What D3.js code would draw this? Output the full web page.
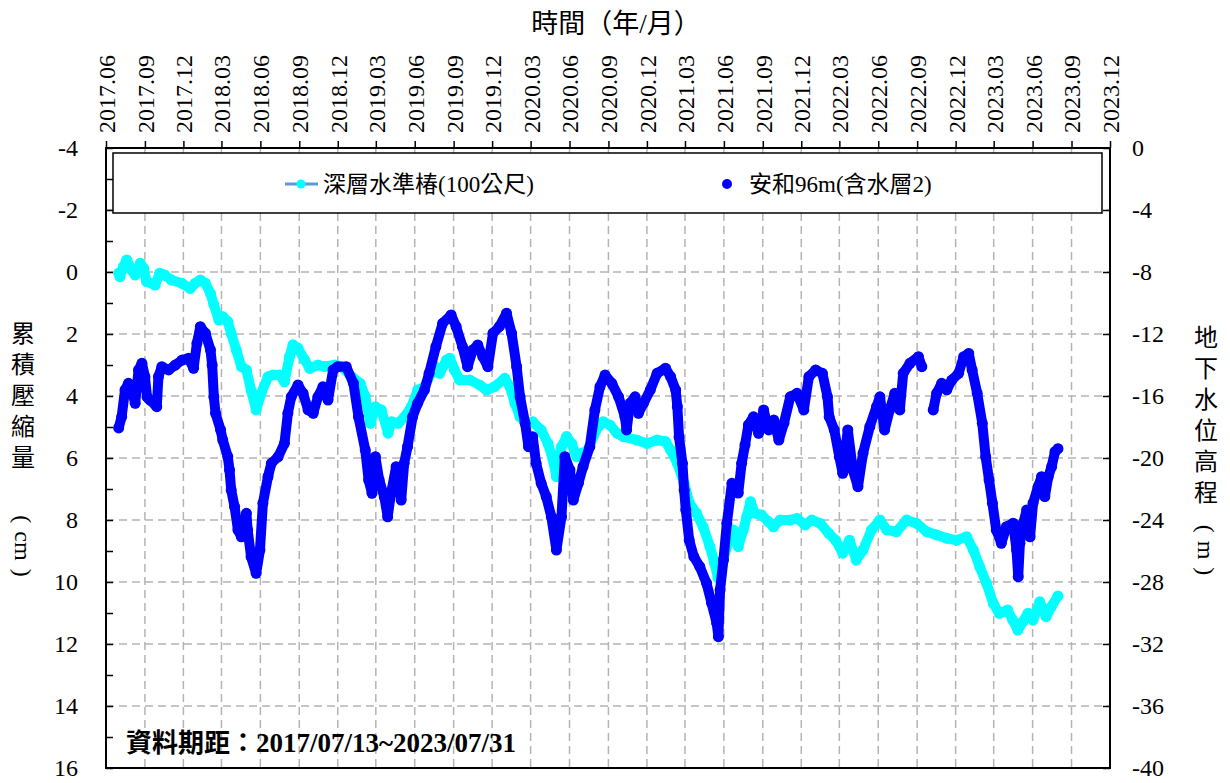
<!DOCTYPE html>
<html>
<head>
<meta charset="utf-8">
<script src="https://cdn.jsdelivr.net/npm/d3@7"></script>
<style>
  body { margin: 0; background: #fff; }
  svg { display: block; font-family: "Liberation Serif", "Noto Sans CJK TC", serif; }
</style>
</head>
<body>
<svg id="chart" width="1230" height="783"></svg>
<script>
// 深層水準椿 (100公尺) - cumulative compaction, cm (left axis)
var cyanDates = ["2017-07-01","2017-07-04","2017-07-12","2017-07-20","2017-08-01","2017-08-09","2017-08-21","2017-08-29",
  "2017-09-05","2017-09-25","2017-10-06","2017-10-18","2017-11-03","2017-11-27","2017-12-17","2017-12-29",
  "2018-01-10","2018-01-22","2018-02-03","2018-02-11","2018-02-23","2018-03-04","2018-03-16","2018-03-24",
  "2018-04-05","2018-04-17","2018-04-29","2018-05-10","2018-05-22","2018-06-03","2018-06-19","2018-07-01",
  "2018-07-16","2018-07-28","2018-08-09","2018-08-17","2018-08-29","2018-09-14","2018-09-26","2018-10-15",
  "2018-10-31","2018-11-24","2018-12-10","2019-01-03","2019-01-23","2019-02-04","2019-02-16","2019-02-28",
  "2019-03-14","2019-03-30","2019-04-07","2019-04-23","2019-05-08","2019-05-24","2019-06-08","2019-06-24",
  "2019-07-18","2019-07-30","2019-08-15","2019-08-23","2019-09-03","2019-09-15","2019-10-09","2019-11-02",
  "2019-11-18","2019-12-07","2019-12-31","2020-01-12","2020-01-24","2020-02-05","2020-02-21","2020-03-06",
  "2020-03-26","2020-04-11","2020-04-23","2020-05-01","2020-05-13","2020-05-25","2020-06-06","2020-06-18",
  "2020-06-30","2020-07-15","2020-07-27","2020-08-08","2020-08-20","2020-09-05","2020-09-21","2020-10-06",
  "2020-11-07","2020-12-01","2020-12-25","2021-01-14","2021-01-26","2021-02-11","2021-02-27","2021-03-12",
  "2021-03-28","2021-04-13","2021-04-29","2021-05-10","2021-05-18","2021-05-30","2021-06-11","2021-06-23",
  "2021-07-05","2021-07-17","2021-07-25","2021-08-03","2021-08-13","2021-08-29","2021-09-14","2021-09-26",
  "2021-10-12","2021-11-05","2021-11-21","2021-12-10","2021-12-26","2022-01-15","2022-02-04","2022-02-20",
  "2022-03-09","2022-03-25","2022-04-10","2022-04-26","2022-05-16","2022-06-05","2022-06-21","2022-07-14",
  "2022-08-07","2022-08-31","2022-09-24","2022-10-17","2022-11-10","2022-12-03","2022-12-27","2023-01-12",
  "2023-01-27","2023-02-12","2023-02-28","2023-03-14","2023-04-03","2023-04-15","2023-04-27","2023-05-09",
  "2023-05-21","2023-06-02","2023-06-18","2023-07-03","2023-07-15","2023-07-31"];
var cyanValues = [0.04,0.15,-0.17,-0.39,-0.06,0.10,-0.28,-0.12,
  0.31,0.42,0.04,0.10,0.26,0.36,0.53,0.36,
  0.26,0.36,0.69,1.06,1.55,1.44,1.60,1.98,
  2.52,3.05,3.16,3.81,4.45,3.91,3.38,3.32,
  3.32,3.54,2.73,2.35,2.46,2.84,3.11,3.00,
  3.05,3.00,3.05,3.38,3.59,4.02,4.88,4.35,
  4.45,5.20,4.83,4.88,4.67,4.35,3.81,3.70,
  3.05,3.27,2.84,2.78,3.16,3.48,3.48,3.65,
  3.81,3.70,3.43,3.70,4.24,4.67,4.88,4.83,
  5.10,5.53,6.06,6.60,5.64,5.31,5.53,5.96,
  5.85,5.74,5.31,4.99,4.83,4.94,5.20,5.31,
  5.42,5.53,5.42,5.47,5.74,6.17,6.82,7.46,
  7.78,8.22,8.86,9.40,9.87,9.29,8.75,8.32,
  8.86,8.32,7.89,7.41,7.78,7.84,8.05,8.22,
  8.00,8.00,7.95,8.16,8.00,8.11,8.43,8.65,
  9.07,8.65,9.29,8.97,8.32,8.00,8.32,8.38,
  8.00,8.11,8.38,8.48,8.59,8.65,8.54,8.97,
  9.51,10.04,10.69,11.01,10.90,11.23,11.55,11.28,
  11.01,11.23,10.64,11.12,10.80,10.45];

// 安和96m (含水層2) - groundwater level, m (right axis); null = no record
var blueDates = ["2017-07-01","2017-07-08","2017-07-16","2017-07-24","2017-08-01","2017-08-09","2017-08-17","2017-08-25",
  "2017-09-01","2017-09-06","2017-09-13","2017-09-29","2017-10-03","2017-10-11","2017-10-27","2017-11-12",
  "2017-11-28","2017-12-13","2017-12-25","2018-01-02","2018-01-10","2018-01-22","2018-02-03","2018-02-07",
  "2018-02-11","2018-02-15","2018-02-27","2018-03-04","2018-03-16","2018-03-20","2018-03-24","2018-04-01",
  "2018-04-09","2018-04-17","2018-04-29","2018-05-02","2018-05-10","2018-05-22","2018-05-31","2018-06-07",
  "2018-06-19","2018-06-27","2018-07-13","2018-07-28","2018-08-05","2018-08-13","2018-08-29","2018-09-10",
  "2018-09-22","2018-10-04","2018-10-15","2018-10-27","2018-11-08","2018-11-20","2018-12-01","2018-12-21",
  "2019-01-07","2019-01-19","2019-02-04","2019-02-12","2019-02-20","2019-02-28","2019-03-09","2019-03-21",
  "2019-03-29","2019-04-06","2019-04-18","2019-04-30","2019-05-07","2019-05-15","2019-05-27","2019-06-08",
  "2019-06-24","2019-07-05","2019-07-21","2019-08-06","2019-08-26","2019-09-07","2019-09-22","2019-10-04",
  "2019-10-16","2019-10-28","2019-11-09","2019-11-21","2019-12-03","2019-12-18","2020-01-04","2020-01-16",
  "2020-01-28","2020-02-05","2020-02-17","2020-02-25","2020-03-06","2020-03-14","2020-03-26","2020-04-07",
  "2020-04-19","2020-05-01","2020-05-13","2020-05-21","2020-06-02","2020-06-10","2020-06-22","2020-07-03",
  "2020-07-19","2020-07-31","2020-08-12","2020-08-24","2020-09-09","2020-09-25","2020-10-10","2020-10-14",
  "2020-10-22","2020-11-03","2020-11-11","2020-11-23","2020-12-09","2020-12-25","2021-01-14","2021-01-26",
  "2021-02-07","2021-02-11","2021-02-15","2021-02-23","2021-02-27","2021-03-03","2021-03-11","2021-03-22",
  "2021-04-05","2021-04-21","2021-05-03","2021-05-15","2021-05-19","2021-05-23","2021-05-31","2021-06-08",
  "2021-06-20","2021-07-05","2021-07-13","2021-07-21","2021-07-29","2021-08-10","2021-08-22","2021-09-03",
  "2021-09-15","2021-09-27","2021-10-09","2021-10-21","2021-11-05","2021-11-21","2021-12-07","2021-12-19",
  "2022-01-04","2022-01-20","2022-02-01","2022-02-05","2022-02-17","2022-03-01","2022-03-09","2022-03-21",
  "2022-04-02","2022-04-14","2022-04-26","2022-05-12","2022-05-28","2022-06-05","2022-06-16","2022-06-28",
  "2022-07-10","2022-07-22","2022-07-30","2022-08-15","2022-09-04","2022-09-12","2022-09-26","2022-10-09",
  "2022-10-17","2022-10-29","2022-11-10","2022-11-22","2022-12-08","2022-12-20","2023-01-01","2023-01-09",
  "2023-01-21","2023-02-02","2023-02-10","2023-02-18","2023-02-26","2023-03-07","2023-03-19","2023-03-31",
  "2023-04-16","2023-04-24","2023-04-28","2023-05-02","2023-05-10","2023-05-18","2023-05-26","2023-06-02",
  "2023-06-14","2023-06-22","2023-06-30","2023-07-08","2023-07-16","2023-07-24","2023-07-31"];
var blueValues = [-18.06,-17.34,-15.61,-15.18,-15.61,-16.47,-14.32,-13.89,
  -14.75,-16.05,-16.26,-16.69,-14.75,-14.11,-14.32,-14.00,
  -13.68,-13.57,-14.21,-12.60,-11.53,-11.95,-13.03,-14.00,
  -16.05,-17.12,-18.19,-18.84,-19.92,-20.77,-22.06,-23.14,
  -24.65,-25.08,-23.57,-24.65,-26.37,-27.44,-25.94,-22.92,
  -21.21,-20.34,-19.92,-19.05,-17.12,-16.05,-15.29,-15.83,
  -16.90,-17.12,-16.05,-15.40,-16.26,-14.32,-14.11,-14.11,
  -15.18,-17.34,-19.48,-21.42,-22.28,-19.92,-21.42,-22.50,
  -23.79,-22.28,-20.56,-22.71,-20.34,-19.27,-17.34,-16.47,
  -15.61,-14.54,-12.82,-11.31,-10.77,-11.53,-12.82,-14.11,
  -13.03,-12.71,-13.46,-14.11,-11.95,-11.53,-10.66,-11.95,
  -14.11,-16.05,-17.76,-19.27,-18.63,-20.34,-21.63,-22.50,
  -23.79,-25.94,-23.79,-19.92,-20.77,-22.71,-21.63,-20.56,
  -19.27,-16.90,-15.40,-14.65,-15.18,-16.05,-17.34,-18.19,
  -16.47,-16.05,-17.12,-16.47,-15.61,-14.54,-14.21,-14.75,
  -15.61,-16.69,-18.63,-20.34,-22.06,-23.35,-25.29,-26.37,
  -27.01,-28.08,-29.37,-30.66,-31.53,-28.52,-26.58,-24.21,
  -21.63,-22.26,-20.34,-19.16,-17.87,-17.34,-18.41,-16.90,
  -18.19,-17.55,-18.84,-17.76,-16.05,-15.83,-16.90,-14.75,
  -14.32,-14.54,-16.05,-17.34,-18.19,-19.92,-20.99,-18.19,
  -20.77,-21.85,-19.70,-17.98,-16.69,-16.05,-18.19,-16.90,
  -15.83,-16.90,-14.54,-13.89,-13.46,-14.11,null,-16.90,
  -15.83,-15.18,-15.61,-14.97,-14.54,-13.46,-13.25,-14.32,
  -15.83,-17.76,-19.92,-21.42,-22.92,-24.65,-25.50,-24.43,
  -24.21,-25.94,-27.66,-25.50,-24.21,-23.35,-25.08,-22.92,
  -21.85,-21.21,-22.49,-21.21,-20.56,-19.59,-19.40];

var leftTicks = d3.range(-4, 17, 1);
var rightTicks = d3.range(0, -41, -4);

var margin = {left: 106, right: 1110, top: 148, bottom: 768};
var parseDate = d3.timeParse("%Y-%m-%d");
var xStart = parseDate("2017-06-01"), xEnd = parseDate("2023-12-01");

var x = d3.scaleTime().domain([xStart, xEnd]).range([margin.left, margin.right]);
var yL = d3.scaleLinear().domain([-4, 16]).range([margin.top, margin.bottom]);
var yR = d3.scaleLinear().domain([0, -40]).range([margin.top, margin.bottom]);

var quarterTicks = d3.timeMonth.range(xStart, d3.timeDay.offset(xEnd, 1), 3);

var cyanData = cyanDates.map(function(d, i) { return {date: parseDate(d), value: cyanValues[i]}; });
var blueData = blueDates.map(function(d, i) { return {date: parseDate(d), value: blueValues[i]}; });

var svg = d3.select("#chart");

svg.append("defs").append("clipPath").attr("id", "plot-clip")
  .append("rect")
  .attr("x", margin.left).attr("y", margin.top)
  .attr("width", margin.right - margin.left).attr("height", margin.bottom - margin.top);

// grid
var grid = svg.append("g").attr("stroke", "#b4b4b4").attr("stroke-width", 1.5).attr("stroke-dasharray", "8,5");
grid.selectAll("line.v")
  .data(quarterTicks.slice(1, -1))
  .enter().append("line").attr("class", "v")
  .attr("x1", function(d) { return x(d); }).attr("x2", function(d) { return x(d); })
  .attr("y1", margin.top).attr("y2", margin.bottom);
grid.selectAll("line.h")
  .data(d3.range(-2, 16, 2))
  .enter().append("line").attr("class", "h")
  .attr("x1", margin.left).attr("x2", margin.right)
  .attr("y1", function(d) { return yL(d); }).attr("y2", function(d) { return yL(d); });

// series
var plot = svg.append("g").attr("clip-path", "url(#plot-clip)");

function drawSeries(data, y, color) {
  var line = d3.line()
    .defined(function(d) { return d.value != null; })
    .x(function(d) { return x(d.date); })
    .y(function(d) { return y(d.value); });
  plot.append("path")
    .datum(data)
    .attr("fill", "none")
    .attr("stroke", color)
    .attr("stroke-width", 10)
    .attr("stroke-linejoin", "round")
    .attr("stroke-linecap", "round")
    .attr("d", line);
  plot.append("g").selectAll("circle")
    .data(data.filter(function(d) { return d.value != null; }))
    .enter().append("circle")
    .attr("cx", function(d) { return x(d.date); })
    .attr("cy", function(d) { return y(d.value); })
    .attr("r", 5.5)
    .attr("fill", color);
}
drawSeries(cyanData, yL, "#00ffff");
drawSeries(blueData, yR, "#0000ff");

// frame
svg.append("rect")
  .attr("x", margin.left).attr("y", margin.top)
  .attr("width", margin.right - margin.left).attr("height", margin.bottom - margin.top)
  .attr("fill", "none").attr("stroke", "#000").attr("stroke-width", 2);

var plainNumber = function(d) { return String(d); };

// top axis
var topAxis = svg.append("g")
  .attr("transform", "translate(0," + margin.top + ")")
  .call(d3.axisTop(x).tickValues(quarterTicks).tickFormat(d3.timeFormat("%Y.%m")).tickSize(7));
topAxis.select(".domain").remove();
topAxis.selectAll("line").attr("stroke", "#000").attr("stroke-width", 1.5);
topAxis.selectAll("text")
  .attr("transform", "rotate(-90)")
  .attr("x", 15).attr("y", 0).attr("dy", "0.35em")
  .style("text-anchor", "start")
  .style("font-size", "24px").style("font-family", "Liberation Serif").attr("fill", "#000");

// left axis
var leftAxis = svg.append("g")
  .attr("transform", "translate(" + margin.left + ",0)")
  .call(d3.axisLeft(yL).tickValues(leftTicks)
    .tickFormat(function(d) { return d % 2 === 0 ? String(d) : ""; })
    .tickSizeInner(-7).tickSizeOuter(0).tickPadding(28));
leftAxis.select(".domain").remove();
leftAxis.selectAll("line").attr("stroke", "#000").attr("stroke-width", 1.5);
leftAxis.selectAll("text")
  .style("font-size", "24px").style("font-family", "Liberation Serif").attr("fill", "#000");

// right axis
var rightAxis = svg.append("g")
  .attr("transform", "translate(" + margin.right + ",0)")
  .call(d3.axisRight(yR).tickValues(rightTicks).tickFormat(plainNumber)
    .tickSizeInner(-7).tickSizeOuter(0).tickPadding(22));
rightAxis.select(".domain").remove();
rightAxis.selectAll("line").attr("stroke", "#000").attr("stroke-width", 1.5);
rightAxis.selectAll("text")
  .style("font-size", "24px").style("font-family", "Liberation Serif").attr("fill", "#000");

// titles
svg.append("text")
  .attr("x", 616).attr("y", 24).attr("dy", "0.35em")
  .attr("text-anchor", "middle")
  .style("font-size", "27px")
  .text("時間（年/月）");

function verticalTitle(cx, y0, chars, unit, unitY) {
  var g = svg.append("g").style("font-size", "24px");
  g.selectAll("text.ch")
    .data(chars)
    .enter().append("text").attr("class", "ch")
    .attr("x", cx).attr("y", function(d, i) { return y0 + i * 31; })
    .attr("dy", "0.35em").attr("text-anchor", "middle")
    .text(function(d) { return d; });
  var t = g.append("text")
    .attr("transform", "translate(" + cx + "," + unitY + ") rotate(90)")
    .attr("text-anchor", "middle").attr("dy", "0.32em");
  t.append("tspan").text("(");
  t.append("tspan").attr("dx", 8).text(unit);
  t.append("tspan").attr("dx", 8).text(")");
}
verticalTitle(23, 334, ["累", "積", "壓", "縮", "量"], "cm", 546);
verticalTitle(1206, 338, ["地", "下", "水", "位", "高", "程"], "m", 550);

// legend
var legend = svg.append("g");
legend.append("rect")
  .attr("x", 113).attr("y", 153).attr("width", 989).attr("height", 60)
  .attr("fill", "#fff").attr("stroke", "#000").attr("stroke-width", 1.5);
legend.append("line")
  .attr("x1", 285).attr("x2", 318).attr("y1", 184).attr("y2", 184)
  .attr("stroke", "#5b9bd5").attr("stroke-width", 3);
legend.append("circle").attr("cx", 301).attr("cy", 184).attr("r", 4.5).attr("fill", "#00ffff");
legend.append("text")
  .attr("x", 323).attr("y", 184).attr("dy", "0.35em")
  .style("font-size", "23px")
  .text("深層水準椿(100公尺)");
legend.append("circle").attr("cx", 727).attr("cy", 184).attr("r", 5).attr("fill", "#0000ff");
legend.append("text")
  .attr("x", 749).attr("y", 184).attr("dy", "0.35em")
  .style("font-size", "23px")
  .text("安和96m(含水層2)");

// data period note
var note = svg.append("text")
  .attr("x", 126).attr("y", 752)
  .style("font-weight", "bold");
note.append("tspan").style("font-size", "26px").text("資料期距：");
note.append("tspan").style("font-size", "27px").text("2017/07/13~2023/07/31");
</script>
</body>
</html>
